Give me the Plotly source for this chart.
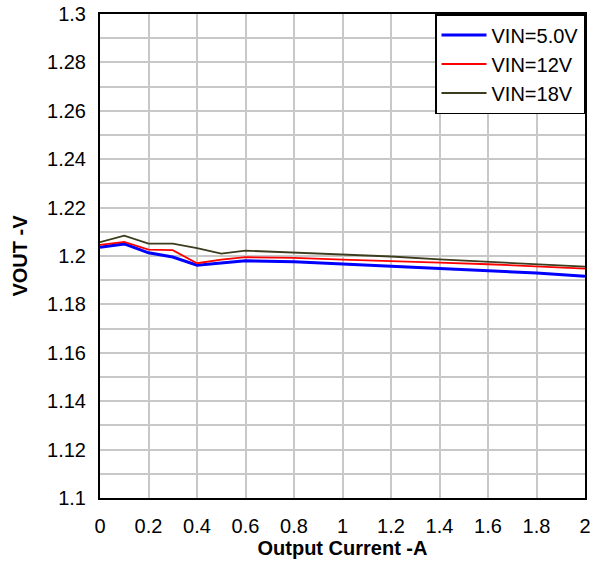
import plotly.graph_objects as go

current = [0, 0.1, 0.2, 0.3, 0.4, 0.5, 0.6, 0.8, 1.0, 1.2, 1.4, 1.6, 1.8, 2.0]
vout_5v = [1.2036, 1.2050, 1.2013, 1.1996, 1.1962, 1.1970, 1.1980, 1.1976, 1.1967, 1.1957, 1.1948, 1.1938, 1.1930, 1.1916]
vout_12v = [1.2046, 1.2058, 1.2026, 1.2024, 1.1970, 1.1985, 1.1995, 1.1992, 1.1985, 1.1980, 1.1973, 1.1966, 1.1957, 1.1948]
vout_18v = [1.2057, 1.2084, 1.2051, 1.2051, 1.2033, 1.2010, 1.2022, 1.2015, 1.2005, 1.1998, 1.1986, 1.1976, 1.1966, 1.1956]

series = [
    ("VIN=5.0V", vout_5v, "#0000ff", 3),
    ("VIN=12V", vout_12v, "#ff0000", 1.8),
    ("VIN=18V", vout_18v, "#3c3c1e", 1.8),
]

fig = go.Figure()
for name, y, color, w in series:
    fig.add_trace(go.Scatter(x=current, y=y, mode="lines", name=name,
                             line=dict(color=color, width=w)))

FAM = "Liberation Sans, Arial, sans-serif"
fig.update_layout(
    width=603, height=563,
    margin=dict(l=100, r=18, t=14, b=65),
    plot_bgcolor="white", paper_bgcolor="white",
    font=dict(family=FAM, size=20, color="#000000"),
    showlegend=True,
    legend=dict(x=1, y=1, xanchor="right", yanchor="top",
                bordercolor="#000000", borderwidth=1.5, bgcolor="white",
                font=dict(family=FAM, size=20, color="#000000"),
                itemwidth=45, tracegroupgap=0),
    xaxis=dict(range=[0, 2], dtick=0.2, tick0=0, showgrid=True, gridcolor="#c8c8c8", gridwidth=2,
               showline=True, linecolor="#000000", linewidth=2, mirror=True,
               ticks="", zeroline=False, ticklabelstandoff=9, automargin=False,
               title=dict(text="<b>Output Current -A</b>", font=dict(size=20), standoff=5)),
    yaxis=dict(range=[1.1, 1.3], dtick=0.02, tick0=1.1, showgrid=True, gridcolor="#c8c8c8", gridwidth=2,
               minor=dict(dtick=0.01, showgrid=True, gridcolor="#c8c8c8", gridwidth=2),
               showline=True, linecolor="#000000", linewidth=2, mirror=True,
               ticks="", zeroline=False, ticklabelstandoff=8, automargin=False,
               title=dict(text="<b>VOUT -V</b>", font=dict(size=20), standoff=14)),
)

fig.write_html("out.html")
